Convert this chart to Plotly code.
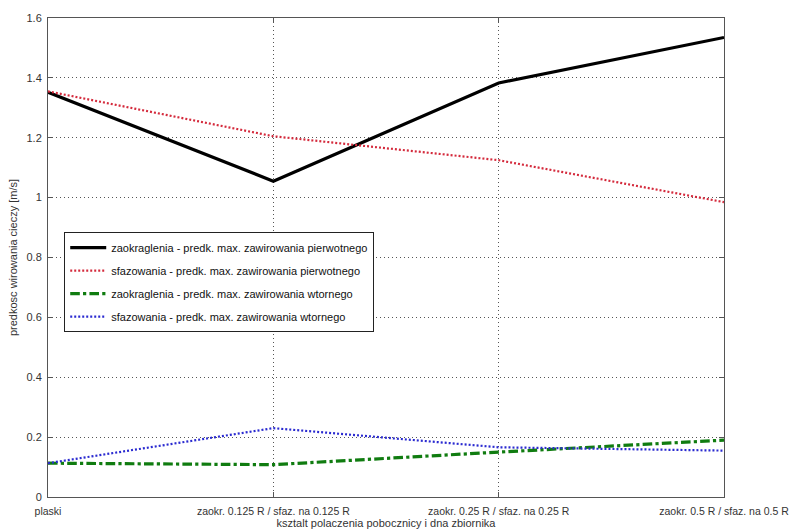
import plotly.graph_objects as go

categories = ["plaski", "zaokr. 0.125 R / sfaz. na 0.125 R",
              "zaokr. 0.25 R / sfaz. na 0.25 R", "zaokr. 0.5 R / sfaz. na 0.5 R"]

zaokr_pierwotne = [1.352, 1.055, 1.383, 1.535]
sfaz_pierwotne = [1.355, 1.205, 1.125, 0.985]
zaokr_wtorne = [0.113, 0.108, 0.150, 0.190]
sfaz_wtorne = [0.113, 0.230, 0.166, 0.155]

names = ["zaokraglenia - predk. max. zawirowania pierwotnego",
         "sfazowania - predk. max. zawirowania pierwotnego",
         "zaokraglenia - predk. max. zawirowania wtornego",
         "sfazowania - predk. max. zawirowania wtornego"]

y_ticks = [0, 0.2, 0.4, 0.6, 0.8, 1.0, 1.2, 1.4, 1.6]

x_idx = list(range(len(categories)))

styles = [
    dict(color="black", width=3.2, dash="solid"),
    dict(color="#d42a3c", width=2.2, dash="2px,2px"),
    dict(color="#107c10", width=3.2, dash="dashdot"),
    dict(color="#2a2ad0", width=2.2, dash="2px,2px"),
]

fig = go.Figure()
for i, (vals, nm, st) in enumerate(zip(
        [zaokr_pierwotne, sfaz_pierwotne, zaokr_wtorne, sfaz_wtorne], names, styles)):
    fig.add_trace(go.Scatter(x=x_idx, y=vals, mode="lines", name=nm,
                             line=st, legendgroup=f"g{i}"))

font = "Liberation Sans, Arial, sans-serif"
grid = dict(showgrid=True, gridcolor="#555", griddash="1px,3px", gridwidth=1)

fig.update_layout(
    width=795, height=529,
    margin=dict(l=48, r=71, t=18, b=32),
    paper_bgcolor="white", plot_bgcolor="white",
    font=dict(family=font, size=11, color="#333"),
    showlegend=True,
    legend=dict(x=0.024, y=0.553, xanchor="left", yanchor="top",
                bgcolor="white", bordercolor="#222", borderwidth=1,
                font=dict(size=11, color="#111"), tracegroupgap=4,
                itemwidth=36),
    xaxis=dict(range=[0, 3], tickmode="array", tickvals=x_idx, ticktext=categories,
               **grid,
               showline=True, linecolor="#555", linewidth=1, mirror="ticks",
               ticks="inside", ticklen=5, tickcolor="#555", zeroline=False,
               tickfont=dict(size=10.5, color="#333"), ticklabelstandoff=4,
               title=dict(text="ksztalt polaczenia pobocznicy i dna zbiornika",
                          font=dict(size=11, color="#333"), standoff=0),
               automargin=False),
    yaxis=dict(range=[0, 1.6], tickmode="array", tickvals=y_ticks,
               **grid,
               showline=True, linecolor="#555", linewidth=1, mirror="ticks",
               ticks="inside", ticklen=5, tickcolor="#555", zeroline=False,
               tickfont=dict(size=11, color="#333"), ticklabelstandoff=3,
               title=dict(text="predkosc wirowania cieczy [m/s]",
                          font=dict(size=11, color="#333"), standoff=6),
               automargin=False),
)

fig.write_html("out.html")
